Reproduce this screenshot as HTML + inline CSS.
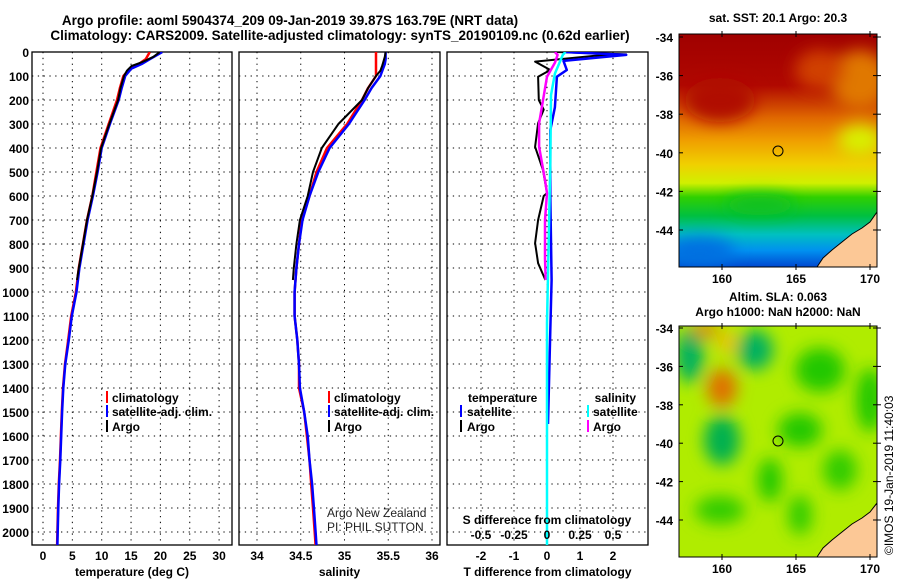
<!DOCTYPE html>
<html><head><meta charset="utf-8">
<style>
html,body{margin:0;padding:0;background:#fff;}
svg{display:block;font-family:"Liberation Sans",sans-serif;}
.b{font-weight:bold;font-size:12px;}
.t{font-weight:bold;font-size:13.5px;}
</style></head>
<body>
<svg id="fig" width="900" height="580" viewBox="0 0 900 580" xmlns="http://www.w3.org/2000/svg">
<defs>
<clipPath id="c1"><rect x="32" y="52" width="200" height="493"/></clipPath>
<clipPath id="c2"><rect x="239" y="52" width="201" height="493"/></clipPath>
<clipPath id="c3"><rect x="447" y="52" width="201" height="493"/></clipPath>
<clipPath id="m1"><rect x="679" y="34" width="198" height="233"/></clipPath>
<clipPath id="m2"><rect x="679" y="326" width="198" height="231"/></clipPath>
<linearGradient id="sst" x1="0" y1="0" x2="0" y2="1">
<stop offset="0" stop-color="#a00000"/><stop offset="0.22" stop-color="#b00800"/>
<stop offset="0.36" stop-color="#e06800"/><stop offset="0.46" stop-color="#f0a000"/>
<stop offset="0.56" stop-color="#f0d000"/><stop offset="0.64" stop-color="#d0f000"/>
<stop offset="0.7" stop-color="#30d000"/><stop offset="0.78" stop-color="#00c040"/>
<stop offset="0.86" stop-color="#00c0c0"/><stop offset="0.93" stop-color="#0090f0"/>
<stop offset="1" stop-color="#0048d0"/></linearGradient>
<filter id="bl" x="-50%" y="-50%" width="200%" height="200%"><feGaussianBlur stdDeviation="8"/></filter>
</defs>

<text class="t" x="290" y="25" text-anchor="middle">Argo profile: aoml 5904374_209 09-Jan-2019 39.87S 163.79E (NRT data)</text>
<text class="t" x="340" y="40" text-anchor="middle">Climatology: CARS2009. Satellite-adjusted climatology: synTS_20190109.nc (0.62d earlier)</text>

<g id="p1"></g>
<g id="p2"></g>
<g id="p3"></g>

<g class="b">
<rect x="106" y="391" width="2" height="12" fill="#f00"/><text x="112" y="402">climatology</text>
<rect x="106" y="405" width="2" height="12" fill="#00f"/><text x="112" y="416">satellite-adj. clim.</text>
<rect x="106" y="420" width="2" height="12" fill="#000"/><text x="112" y="431">Argo</text>
</g>
<g class="b">
<rect x="328" y="391" width="2" height="12" fill="#f00"/><text x="334" y="402">climatology</text>
<rect x="328" y="405" width="2" height="12" fill="#00f"/><text x="334" y="416">satellite-adj. clim.</text>
<rect x="328" y="420" width="2" height="12" fill="#000"/><text x="334" y="431">Argo</text>
</g>
<g class="b">
<text x="468" y="402">temperature</text>
<rect x="460" y="405" width="2" height="12" fill="#00f"/><text x="467" y="416">satellite</text>
<rect x="460" y="420" width="2" height="12" fill="#000"/><text x="467" y="431">Argo</text>
<text x="636" y="402" text-anchor="end">salinity</text>
<rect x="587" y="405" width="2" height="12" fill="#0ff"/><text x="593" y="416">satellite</text>
<rect x="587" y="420" width="2" height="12" fill="#f0f"/><text x="593" y="431">Argo</text>
</g>
<text x="327" y="517" font-size="12" fill="#222">Argo New Zealand</text>
<text x="327" y="531" font-size="12" fill="#222">PI: PHIL SUTTON</text>

<g>
<text class="b" x="778" y="22" text-anchor="middle">sat. SST: 20.1 Argo: 20.3</text>
<g clip-path="url(#m1)">
<rect x="679" y="34" width="198" height="233" fill="url(#sst)"/>
<g filter="url(#bl)">
<ellipse cx="860" cy="80" rx="30" ry="30" fill="#e07800"/>
<ellipse cx="820" cy="70" rx="25" ry="20" fill="#d04000"/>
<ellipse cx="720" cy="100" rx="35" ry="22" fill="#b01000"/>
<ellipse cx="860" cy="140" rx="22" ry="15" fill="#d8f000"/>
<ellipse cx="760" cy="205" rx="35" ry="10" fill="#10c020"/>
<ellipse cx="700" cy="252" rx="35" ry="15" fill="#0070e0"/>
</g>
<polygon points="817,267 823,258 832,250 842,242 852,234 862,228 870,222 877,212 877,267" fill="#fcc896" stroke="#000" stroke-width="1"/>
</g>
<rect x="679" y="34" width="198" height="233" fill="none" stroke="#000"/>
<circle cx="778" cy="151" r="5" fill="none" stroke="#000"/>
</g>
<g>
<text class="b" x="778" y="301" text-anchor="middle">Altim. SLA: 0.063</text>
<text class="b" x="778" y="316" text-anchor="middle">Argo h1000: NaN h2000: NaN</text>
<g clip-path="url(#m2)">
<rect x="679" y="326" width="198" height="231" fill="#b0ec00"/>
<g filter="url(#bl)">
<ellipse cx="690" cy="355" rx="14" ry="28" fill="#00b060"/>
<ellipse cx="755" cy="350" rx="18" ry="20" fill="#00b060"/>
<ellipse cx="820" cy="370" rx="25" ry="22" fill="#20c800"/>
<ellipse cx="870" cy="400" rx="14" ry="32" fill="#20c800"/>
<ellipse cx="722" cy="440" rx="18" ry="25" fill="#00b050"/>
<ellipse cx="800" cy="430" rx="22" ry="17" fill="#20c800"/>
<ellipse cx="770" cy="480" rx="12" ry="22" fill="#20c800"/>
<ellipse cx="840" cy="470" rx="17" ry="20" fill="#30cc00"/>
<ellipse cx="720" cy="510" rx="25" ry="14" fill="#30cc00"/>
<ellipse cx="800" cy="515" rx="12" ry="20" fill="#30cc00"/>
<ellipse cx="722" cy="388" rx="15" ry="19" fill="#e07000"/>
<ellipse cx="705" cy="330" rx="14" ry="7" fill="#e08000"/>
<ellipse cx="727" cy="342" rx="9" ry="12" fill="#f0c000"/>
</g>
<polygon points="817,557 823,548 832,540 842,532 852,524 862,518 870,512 877,503 877,557" fill="#fcc896" stroke="#000" stroke-width="1"/>
</g>
<rect x="679" y="326" width="198" height="231" fill="none" stroke="#000"/>
<circle cx="778" cy="441" r="5" fill="none" stroke="#000"/>
</g>
<g id="mapaxes"></g>
<text x="893" y="555" font-size="12" transform="rotate(-90 893 555)">©IMOS 19-Jan-2019 11:40:03</text>
</svg>

<script>
const depthTicks = [0,100,200,300,400,500,600,700,800,900,1000,1100,1200,1300,1400,1500,1600,1700,1800,1900,2000];
const tempTicks = [0,5,10,15,20,25,30];
const salTicks = [34,34.5,35,35.5,36];
const tdiffTicks = [-2,-1,0,1,2];
const sdiffTickLabels = ["-0.5","-0.25","0","0.25","0.5"];
const sdiffTicks = [-0.5,-0.25,0,0.25,0.5];

const climDepth = [0,30,50,70,100,150,200,300,400,500,600,700,800,900,1000,1100,1200,1300,1400,1500,1600,1700,1800,1900,2000,2055];
const tempClim = [18.2,17.5,16.3,14.8,13.7,13.1,12.6,11.2,9.8,9.1,8.4,7.5,6.8,6.1,5.6,4.8,4.3,3.75,3.4,3.2,3.05,2.9,2.7,2.55,2.45,2.4];
const tempSat  = [20.3,18.2,16.8,15.0,14.0,13.4,12.9,11.4,10.0,9.3,8.5,7.6,6.9,6.2,5.7,4.9,4.4,3.8,3.45,3.25,3.1,2.95,2.75,2.6,2.5,2.45];
const argoDepth = [0,20,33,46,58,78,100,150,200,300,400,500,600,700,800,900,950];
const tempArgo = [19.9,18.8,17.7,16.5,15.1,14.3,13.8,13.2,12.8,11.3,9.9,9.2,8.4,7.5,6.8,6.1,5.8];

const salClim = [35.36,35.36,35.36,35.36,35.36,35.27,35.2,35.03,34.8,34.68,34.6,34.51,34.48,34.45,34.43,34.43,34.46,34.48,34.48,34.54,34.57,34.6,34.62,34.64,34.66,34.67];
const salSat  = [35.47,35.47,35.46,35.44,35.41,35.31,35.23,35.05,34.83,34.7,34.6,34.52,34.48,34.45,34.43,34.43,34.46,34.48,34.49,34.54,34.58,34.6,34.63,34.65,34.67,34.68];
const salArgo = [35.47,35.46,35.45,35.44,35.43,35.41,35.36,35.27,35.2,34.93,34.74,34.64,34.58,34.49,34.45,34.42,34.41];

const tdArgoDepth = [0,10,15,40,75,103,200,240,297,395,492,588,600,700,796,880,950];
const tdArgo = [0.3,2.4,1.5,-0.36,0.1,-0.27,-0.25,-0.1,-0.27,-0.36,-0.12,0,-0.1,-0.27,-0.36,-0.27,-0.05];
const tdSatDepth = [0,12,20,37,75,103,230,325,600,950,1160,1550];
const tdSat = [0.5,2.4,1.8,0.5,0.6,0.3,0.24,0.1,0.1,0.14,0.1,0.03];
const sdArgoDepth = [0,12,45,103,297,395,533,588,700,860,950];
const sdArgo = [0.06,0.08,0.06,0,-0.06,-0.06,-0.015,0,-0.015,-0.015,-0.01];
const sdSatDepth = [0,12,90,180,460,1130,2055];
const sdSat = [0.14,0.12,0.06,0.03,0.025,0,0];

const latTicks = [-34,-36,-38,-40,-42,-44];
const lonTicks = [160,165,170];

const NS = "http://www.w3.org/2000/svg";
function mk(parent, tag, attrs, text){
  const e = document.createElementNS(NS, tag);
  for (const k in attrs) e.setAttribute(k, attrs[k]);
  if (text !== undefined) e.textContent = text;
  parent.appendChild(e);
  return e;
}
const yD = d => 52 + d * 0.24;
const PANELS = [
  {id:"p1", x0:32, x1:232, clip:"c1", sx: v => 43 + v * 5.87},
  {id:"p2", x0:239, x1:440, clip:"c2", sx: v => 257 + (v - 34) * 87.5},
  {id:"p3", x0:447, x1:648, clip:"c3", sx: v => 547 + v * 33}
];
const sxS = v => 547 + v * 132;

function frame(p, ticks, labels, xlabel){
  const g = document.getElementById(p.id);
  depthTicks.forEach(d => {
    const l = mk(g, "line", {x1:p.x0, x2:p.x1, y1:yD(d), y2:yD(d), stroke:"#000", "stroke-width":1, "stroke-dasharray":"1.3,4.5"});
    
    
  });
  ticks.forEach((v,i) => {
    const x = p.sx(v);
    const l = mk(g, "line", {x1:x, x2:x, y1:52, y2:545, stroke:"#000", "stroke-width":1, "stroke-dasharray":"1.3,4.5"});
    
    
    const t = mk(g, "text", {x:x, y:560, "text-anchor":"middle", class:"b"}, labels[i]);
    
    
  });
  const r = mk(g, "rect", {x:p.x0, y:52, width:p.x1-p.x0, height:493, fill:"none", stroke:"#000", "stroke-width":1.3});
  
  
  const xl = mk(g, "text", {x:(p.x0+p.x1)/2, y:576, "text-anchor":"middle", class:"b"}, xlabel);
  
  
  return g;
}
function series(g, p, sx, depths, vals, color, w, name){
  const pts = depths.map((d,i) => sx(vals[i]).toFixed(1) + "," + yD(d).toFixed(1)).join(" ");
  const l = mk(g, "polyline", {points:pts, fill:"none", stroke:color, "stroke-width":w, "clip-path":"url(#"+p.clip+")", "stroke-linejoin":"round"});
  
  
}

const g1 = frame(PANELS[0], tempTicks, tempTicks.map(String), "temperature (deg C)");
depthTicks.forEach(d => {
  const t = mk(g1, "text", {x:29, y:yD(d)+5, "text-anchor":"end", class:"b"}, String(d));
  
  
});
series(g1, PANELS[0], PANELS[0].sx, climDepth, tempClim, "#f00", 2.5, "temperature-climatology-line");
series(g1, PANELS[0], PANELS[0].sx, climDepth, tempSat, "#00f", 2.5, "temperature-satellite-line");
series(g1, PANELS[0], PANELS[0].sx, argoDepth, tempArgo, "#000", 2, "temperature-argo-line");

const g2 = frame(PANELS[1], salTicks, salTicks.map(String), "salinity");
series(g2, PANELS[1], PANELS[1].sx, climDepth, salClim, "#f00", 2.5, "salinity-climatology-line");
series(g2, PANELS[1], PANELS[1].sx, climDepth, salSat, "#00f", 2.5, "salinity-satellite-line");
series(g2, PANELS[1], PANELS[1].sx, argoDepth, salArgo, "#000", 2, "salinity-argo-line");

const g3 = frame(PANELS[2], tdiffTicks, tdiffTicks.map(String), "T difference from climatology");
series(g3, PANELS[2], PANELS[2].sx, tdArgoDepth, tdArgo, "#000", 2, "t-diff-argo-line");
series(g3, PANELS[2], PANELS[2].sx, tdSatDepth, tdSat, "#00f", 2.5, "t-diff-satellite-line");
series(g3, PANELS[2], sxS, sdArgoDepth, sdArgo, "#f0f", 2.5, "s-diff-argo-line");
series(g3, PANELS[2], sxS, sdSatDepth, sdSat, "#0ff", 2.5, "s-diff-satellite-line");
sdiffTicks.forEach((v,i) => {
  const t = mk(g3, "text", {x:sxS(v), y:539, "text-anchor":"middle", class:"b"}, sdiffTickLabels[i]);
  
  
});
const st = mk(g3, "text", {x:547, y:524, "text-anchor":"middle", class:"b"}, "S difference from climatology");



const ga = document.getElementById("mapaxes");
[[34,267,37,19.3],[326,557,328,19.2]].forEach(m => {
  const [top, bot, y34, ppd] = m;
  latTicks.forEach(lat => {
    const y = y34 + (-34 - lat) * ppd;
    const t = mk(ga, "text", {x:673, y:y+5, "text-anchor":"end", class:"b"}, String(lat));
    
    
    mk(ga, "line", {x1:679, x2:683, y1:y, y2:y, stroke:"#000"});
    mk(ga, "line", {x1:873, x2:881, y1:y, y2:y, stroke:"#000"});
  });
  lonTicks.forEach(lon => {
    const x = 722 + (lon - 160) * 14.8;
    const t = mk(ga, "text", {x:x, y:bot+16, "text-anchor":"middle", class:"b"}, String(lon));
    
    
    mk(ga, "line", {x1:x, x2:x, y1:top-3, y2:top+3, stroke:"#000"});
    mk(ga, "line", {x1:x, x2:x, y1:bot-3, y2:bot+3, stroke:"#000"});
  });
});
</script>
</body></html>
